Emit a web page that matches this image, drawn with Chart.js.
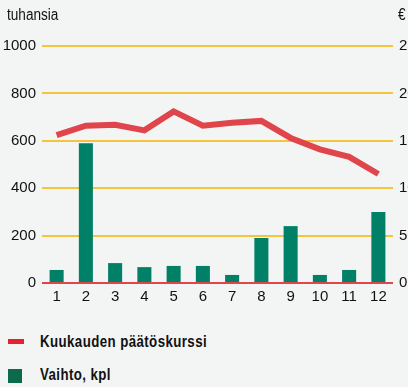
<!DOCTYPE html>
<html>
<head>
<meta charset="utf-8">
<script src="https://cdn.jsdelivr.net/npm/chart.js@4"></script>
<style>
    body {
        margin: 0;
        background: #f2f5f4;
        font-family: "Liberation Sans", sans-serif;
    }
    #wrap {
        position: relative;
        width: 408px;
        height: 387px;
        overflow: hidden;
    }
    #chartBox {
        position: absolute;
        left: 0;
        top: 0;
        width: 408px;
        height: 310px;
    }
    .unit {
        position: absolute;
        top: 6px;
        font-size: 16px;
        color: #111;
        transform: scaleX(0.85);
        transform-origin: left center;
    }
    .legend-row {
        position: absolute;
        left: 0;
        font-size: 16px;
        font-weight: bold;
        letter-spacing: 0.5px;
        color: #111;
    }
    .legend-row span.mark {
        position: absolute;
        left: 8px;
    }
    .legend-row span.text {
        position: absolute;
        left: 40px;
        white-space: nowrap;
        transform: scaleX(0.83);
        transform-origin: left center;
    }
</style>
</head>
<body>
<div id="wrap">
    <div id="chartBox"><canvas id="stockChart"></canvas></div>
    <div class="unit" style="left:7px">tuhansia</div>
    <div class="unit" style="left:398px">€</div>

    <div class="legend-row" style="top:333px">
        <span class="mark" style="top:6px;width:16px;height:5px;background:#e8202f"></span>
        <span class="text">Kuukauden päätöskurssi</span>
    </div>
    <div class="legend-row" style="top:366px">
        <span class="mark" style="top:3px;width:14px;height:14px;background:#0b6a4b"></span>
        <span class="text">Vaihto, kpl</span>
    </div>
</div>

<script>
const months = ["1", "2", "3", "4", "5", "6", "7", "8", "9", "10", "11", "12"];

// monthly trading volume, thousands of shares
const volume = [55, 590, 84, 67, 72, 72, 34, 190, 240, 34, 55, 300];

// month-end closing price, euros
const closePrice = [15.6, 16.6, 16.7, 16.1, 18.1, 16.6, 16.9, 17.1, 15.3, 14.1, 13.3, 11.5];

const RED = "#e0454b";
const GREEN = "#008066";
const GRID = "#f4c53a";

const tickFont = { family: "Liberation Sans, sans-serif", size: 15 };

new Chart(document.getElementById("stockChart"), {
    type: "bar",
    data: {
        labels: months,
        datasets: [{
            type: "line",
            label: "Kuukauden päätöskurssi",
            data: closePrice,
            yAxisID: "y1",
            borderColor: RED,
            borderWidth: 6,
            pointRadius: 0,
            tension: 0,
            order: 0
        }, {
            label: "Vaihto, kpl",
            data: volume,
            yAxisID: "y",
            backgroundColor: GREEN,
            categoryPercentage: 0.8,
            barPercentage: 0.6,
            order: 1
        }]
    },
    options: {
        responsive: true,
        maintainAspectRatio: false,
        animation: false,
        layout: { padding: { top: 46, bottom: 5, left: 0, right: 0 } },
        plugins: {
            legend: { display: false },
            tooltip: { enabled: false }
        },
        scales: {
            x: {
                grid: { display: false },
                border: { display: false },
                ticks: { color: "#111", font: tickFont, padding: -3 },
                afterFit: axis => { axis.height = 22; }
            },
            y: {
                position: "left",
                min: 0,
                max: 1000,
                ticks: {
                    stepSize: 200,
                    color: "#111",
                    font: tickFont,
                    padding: 6,
                    callback: v => String(v)
                },
                grid: {
                    drawTicks: false,
                    lineWidth: 2,
                    color: ctx => ctx.tick && ctx.tick.value === 0 ? RED : GRID
                },
                border: { display: false },
                afterFit: axis => { axis.width = 42; }
            },
            y1: {
                position: "right",
                min: 0,
                max: 25,
                ticks: { stepSize: 5, color: "#111", font: tickFont, padding: 6 },
                grid: { display: false, drawTicks: false },
                border: { display: false },
                afterFit: axis => { axis.width = 15; }
            }
        }
    }
});
</script>
</body>
</html>
